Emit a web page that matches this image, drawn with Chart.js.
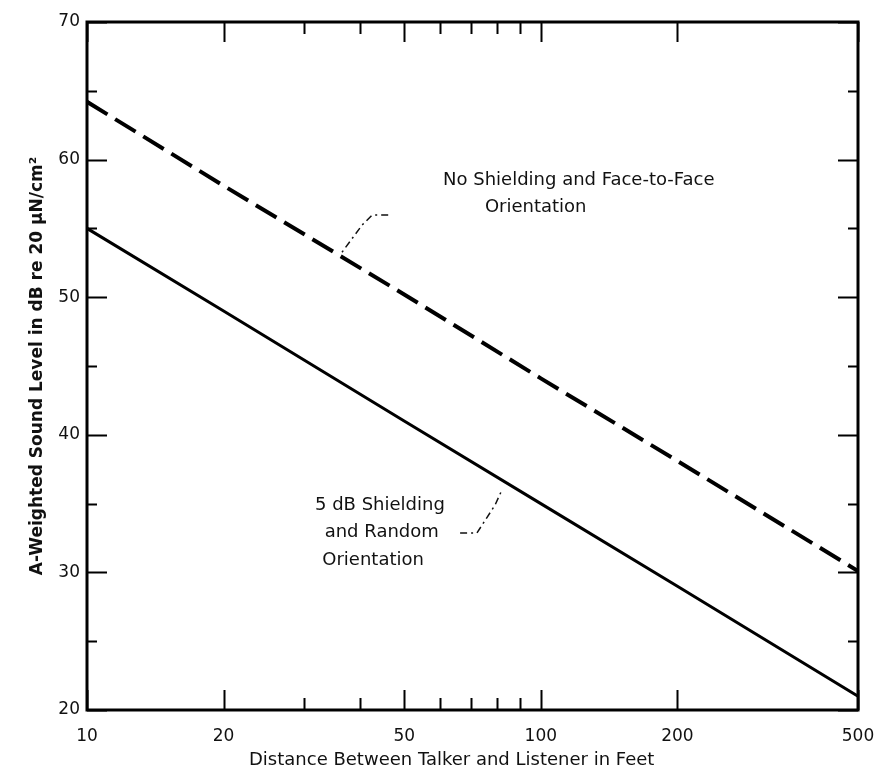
<!DOCTYPE html>
<html>
<head>
<meta charset="utf-8">
<title>Sound level vs distance</title>
<script src="https://cdn.jsdelivr.net/npm/chart.js@4.4.1/dist/chart.umd.min.js"></script>
<style>
  html, body { margin: 0; padding: 0; background: #fff; }
  #wrap { width: 874px; height: 775px; }
</style>
</head>
<body>
<div id="wrap"><canvas id="levelChart" width="874" height="775"></canvas></div>
<script>
// distance in feet, A-weighted level in dB
const distances = [10, 20, 50, 100, 200, 500];
const faceToFace = [64.2, 58.1, 50.2, 44.1, 38.1, 30.1];
const shielded = [55.0, 49.0, 41.0, 35.0, 29.0, 21.0];

const xTickValues = [10, 20, 50, 100, 200, 500];
const xMinorTicks = [30, 40, 60, 70, 80, 90];
const yTickValues = [20, 30, 40, 50, 60, 70];
const yMinorTicks = [25, 35, 45, 55, 65];

const fontFamily = '"DejaVu Sans", sans-serif';
const xTitle = 'Distance Between Talker and Listener in Feet';

// curve labels and their leader lines, in data units
const notes = [
  { text: 'No Shielding and Face-to-Face', x: 60.9, y: 58.5 },
  { text: 'Orientation', x: 75.3, y: 56.55 },
  { text: '5 dB Shielding', x: 31.8, y: 34.9 },
  { text: 'and Random', x: 33.4, y: 32.9 },
  { text: 'Orientation', x: 33.0, y: 30.9 }
];
const leaders = [
  [[46.1, 55.97], [42.5, 55.97], [40.4, 55.25], [36.1, 53.07]],
  [[66.4, 32.86], [72.3, 32.86], [79.3, 34.9], [82.1, 35.99]]
];

function toPoints(xs, ys) {
  return xs.map((d, i) => ({ x: d, y: ys[i] }));
}

// frame plus inward tick marks on all four sides
const frameTicks = {
  id: 'frameTicks',
  afterDatasetsDraw(chart) {
    const { ctx, chartArea: a, scales: { x, y } } = chart;
    ctx.save();
    ctx.strokeStyle = '#000';
    ctx.lineCap = 'butt';

    ctx.lineWidth = 2;
    const xTick = (v, len) => {
      const px = Math.round(x.getPixelForValue(v)) + 0.5;
      ctx.beginPath();
      ctx.moveTo(px, a.bottom); ctx.lineTo(px, a.bottom - len);
      ctx.moveTo(px, a.top); ctx.lineTo(px, a.top + len);
      ctx.stroke();
    };
    const yTick = (v, len) => {
      const py = Math.round(y.getPixelForValue(v)) + 0.5;
      ctx.beginPath();
      ctx.moveTo(a.left, py); ctx.lineTo(a.left + len, py);
      ctx.moveTo(a.right, py); ctx.lineTo(a.right - len, py);
      ctx.stroke();
    };
    xTickValues.forEach(v => xTick(v, 20));
    xMinorTicks.forEach(v => xTick(v, 12));
    yTickValues.forEach(v => yTick(v, 20));
    yMinorTicks.forEach(v => yTick(v, 10));

    ctx.lineWidth = 3;
    ctx.strokeRect(a.left, a.top, a.width, a.height);
    ctx.restore();
  }
};

const curveNotes = {
  id: 'curveNotes',
  afterDraw(chart) {
    const { ctx, chartArea: a, scales: { x, y } } = chart;
    ctx.save();
    ctx.fillStyle = '#111';
    ctx.font = '18px ' + fontFamily;
    ctx.textAlign = 'left';
    ctx.textBaseline = 'middle';
    notes.forEach(n => {
      ctx.fillText(n.text, x.getPixelForValue(n.x), y.getPixelForValue(n.y));
    });

    // x axis title sits a little left of the plot centre
    ctx.textAlign = 'center';
    ctx.fillText(xTitle, a.left + a.width * 0.473, a.bottom + 50);

    ctx.strokeStyle = '#111';
    ctx.lineWidth = 1.5;
    ctx.setLineDash([7, 4, 2, 4]);
    leaders.forEach(pts => {
      ctx.beginPath();
      pts.forEach(([vx, vy], i) => {
        const px = x.getPixelForValue(vx), py = y.getPixelForValue(vy);
        if (i === 0) ctx.moveTo(px, py); else ctx.lineTo(px, py);
      });
      ctx.stroke();
    });
    ctx.restore();
  }
};

new Chart(document.getElementById('levelChart'), {
  type: 'line',
  data: {
    datasets: [
      {
        label: 'No Shielding and Face-to-Face Orientation',
        data: toPoints(distances, faceToFace),
        borderColor: '#000',
        borderWidth: 4,
        borderDash: [24, 9],
        pointRadius: 0,
        tension: 0
      },
      {
        label: '5 dB Shielding and Random Orientation',
        data: toPoints(distances, shielded),
        borderColor: '#000',
        borderWidth: 3,
        pointRadius: 0,
        tension: 0
      }
    ]
  },
  options: {
    responsive: false,
    animation: false,
    layout: { padding: { top: 22, right: 16, left: 0, bottom: 0 } },
    plugins: {
      legend: { display: false },
      tooltip: { enabled: false }
    },
    scales: {
      x: {
        type: 'logarithmic',
        min: 10,
        max: 500,
        afterBuildTicks: scale => {
          scale.ticks = xTickValues.map(v => ({ value: v }));
        },
        afterFit: scale => {
          scale.height = 65;
          scale.paddingLeft = 0;
          scale.paddingRight = 0;
        },
        grid: { display: false, drawTicks: false },
        border: { display: false },
        ticks: {
          color: '#111',
          padding: 16,
          maxRotation: 0,
          autoSkip: false,
          font: { family: fontFamily, size: 17 },
          callback: value => String(value)
        },
        title: { display: false }
      },
      y: {
        min: 20,
        max: 70,
        afterBuildTicks: scale => {
          scale.ticks = yTickValues.map(v => ({ value: v }));
        },
        afterFit: scale => {
          scale.width = 87;
          scale.paddingTop = 0;
          scale.paddingBottom = 0;
        },
        grid: { display: false, drawTicks: false },
        border: { display: false },
        ticks: {
          color: '#111',
          padding: 7,
          font: { family: fontFamily, size: 17 }
        },
        title: {
          display: true,
          text: 'A-Weighted Sound Level in dB re 20 µN/cm²',
          color: '#111',
          font: { family: fontFamily, size: 17, weight: 'bold' },
          padding: { top: 27, bottom: 0 }
        }
      }
    }
  },
  plugins: [frameTicks, curveNotes]
});
</script>
</body>
</html>
